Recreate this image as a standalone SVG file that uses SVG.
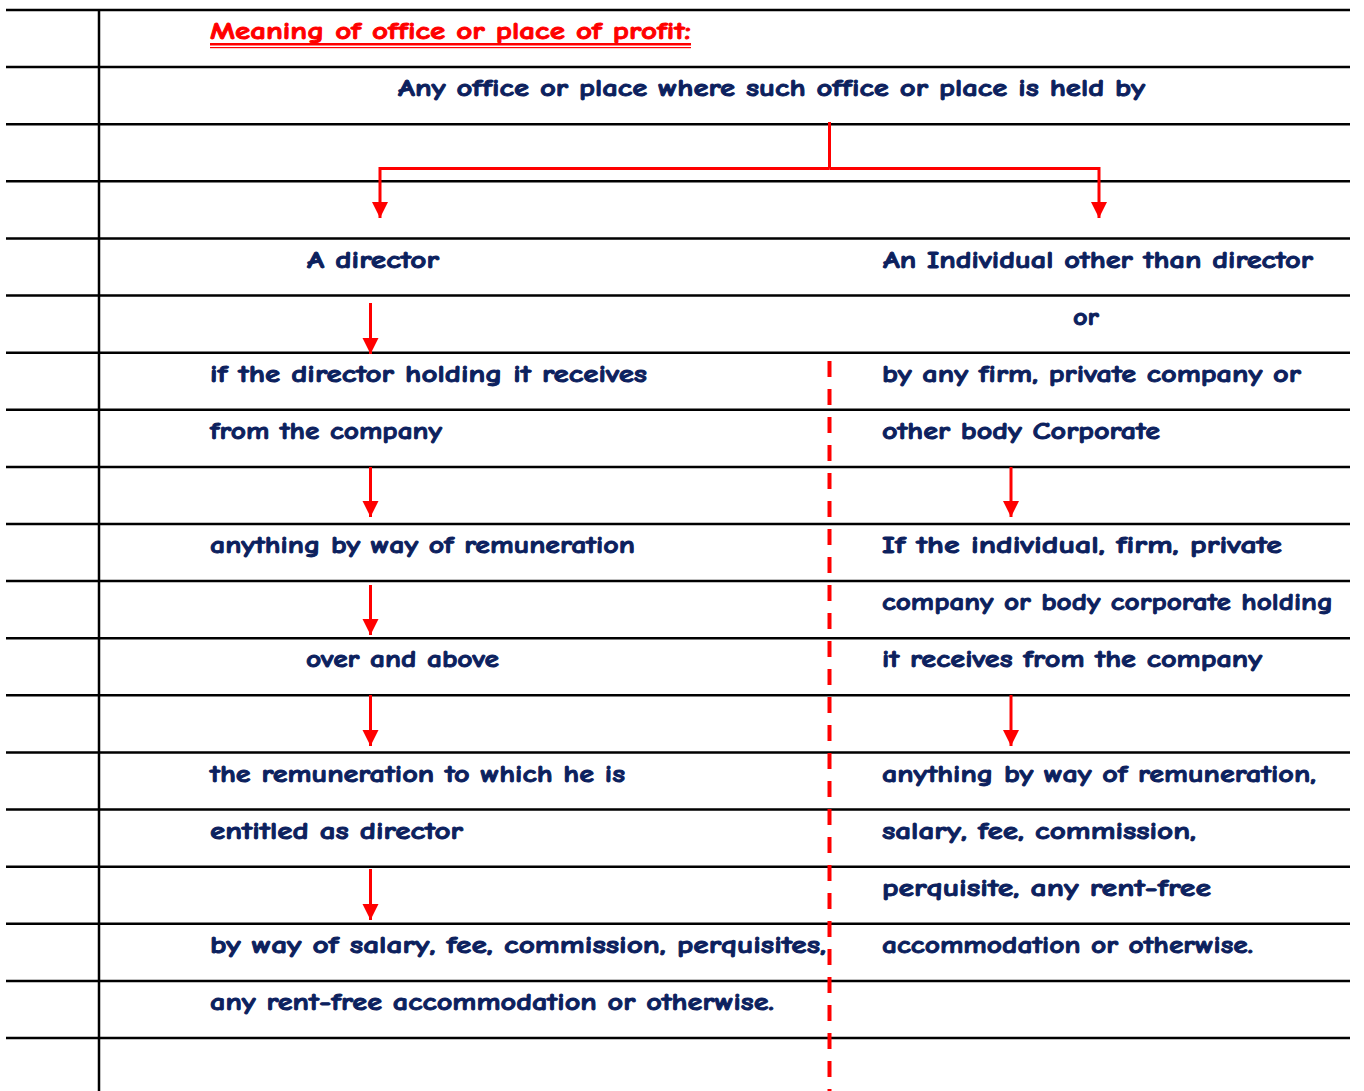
<svg xmlns="http://www.w3.org/2000/svg" width="1364" height="1091" viewBox="0 0 1364 1091">
<defs>
<style>
.rule{stroke:#000;stroke-width:2.5;fill:none}
.t{font-family:"Comic Sans MS","Comic Neue","DejaVu Sans",sans-serif;font-weight:bold;font-size:24.5px;fill:#0c215e;stroke:#0c215e;stroke-width:0.9px;stroke-linejoin:round}
.title{fill:#ff0000;stroke:#ff0000}
.red{stroke:#ff0000;stroke-width:3;fill:none}
.dash{stroke:#ff0000;stroke-width:4;fill:none;stroke-dasharray:16 12}
</style>
<marker id="ah" markerUnits="userSpaceOnUse" markerWidth="17" markerHeight="17" refX="16" refY="8" orient="auto">
<path d="M0,0 L16,8 L0,16 z" fill="#ff0000"/>
</marker>
</defs>
<rect width="1364" height="1091" fill="#fff"/>
<g id="ruling">
<path class="rule" d="M6,10H1350 M6,67.1H1350 M6,124.2H1350 M6,181.3H1350 M6,238.4H1350 M6,295.6H1350 M6,352.7H1350 M6,409.8H1350 M6,466.9H1350 M6,524H1350 M6,581.1H1350 M6,638.2H1350 M6,695.3H1350 M6,752.4H1350 M6,809.6H1350 M6,866.7H1350 M6,923.8H1350 M6,980.9H1350 M6,1038H1350"/>
<path class="rule" d="M99,10V1091"/>
</g>
<g id="title">
<text class="t title" x="210" y="39" textLength="481" lengthAdjust="spacingAndGlyphs">Meaning of office or place of profit:</text>
<rect x="210" y="43" width="481" height="2.5" fill="#ff0000"/>
<rect x="210" y="47" width="481" height="1.2" fill="#ff0000"/>
</g>
<g id="n-root"><text class="t" x="398" y="96" textLength="747" lengthAdjust="spacingAndGlyphs">Any office or place where such office or place is held by</text></g>
<g id="n-director"><text class="t" x="307" y="268" textLength="132" lengthAdjust="spacingAndGlyphs">A director</text></g>
<g id="n-individual">
<text class="t" x="883" y="268" textLength="430" lengthAdjust="spacingAndGlyphs">An Individual other than director</text>
<text class="t" x="1073" y="325" textLength="26" lengthAdjust="spacingAndGlyphs">or</text>
<text class="t" x="882" y="382" textLength="419" lengthAdjust="spacingAndGlyphs">by any firm, private company or</text>
<text class="t" x="882" y="439" textLength="278" lengthAdjust="spacingAndGlyphs">other body Corporate</text>
</g>
<g id="n-left1">
<text class="t" x="210" y="382" textLength="437" lengthAdjust="spacingAndGlyphs">if the director holding it receives</text>
<text class="t" x="210" y="439" textLength="232" lengthAdjust="spacingAndGlyphs">from the company</text>
</g>
<g id="n-left2"><text class="t" x="210" y="553" textLength="425" lengthAdjust="spacingAndGlyphs">anything by way of remuneration</text></g>
<g id="n-right2">
<text class="t" x="882" y="553" textLength="400" lengthAdjust="spacingAndGlyphs">If the individual, firm, private</text>
<text class="t" x="882" y="610" textLength="451" lengthAdjust="spacingAndGlyphs">company or body corporate holding</text>
<text class="t" x="882" y="667" textLength="380" lengthAdjust="spacingAndGlyphs">it receives from the company</text>
</g>
<g id="n-left3"><text class="t" x="306" y="667" textLength="193" lengthAdjust="spacingAndGlyphs">over and above</text></g>
<g id="n-left4">
<text class="t" x="210" y="782" textLength="415" lengthAdjust="spacingAndGlyphs">the remuneration to which he is</text>
<text class="t" x="210" y="839" textLength="253" lengthAdjust="spacingAndGlyphs">entitled as director</text>
</g>
<g id="n-right3">
<text class="t" x="882" y="782" textLength="434" lengthAdjust="spacingAndGlyphs">anything by way of remuneration,</text>
<text class="t" x="882" y="839" textLength="314" lengthAdjust="spacingAndGlyphs">salary, fee, commission,</text>
<text class="t" x="882" y="896" textLength="329" lengthAdjust="spacingAndGlyphs">perquisite, any rent-free</text>
<text class="t" x="882" y="953" textLength="371" lengthAdjust="spacingAndGlyphs">accommodation or otherwise.</text>
</g>
<g id="n-left5">
<text class="t" x="210" y="953" textLength="616" lengthAdjust="spacingAndGlyphs">by way of salary, fee, commission, perquisites,</text>
<text class="t" x="210" y="1010" textLength="564" lengthAdjust="spacingAndGlyphs">any rent-free accommodation or otherwise.</text>
</g>
<g id="connectors">
<path class="red" d="M829.5,122V168.5"/>
<path class="red" d="M829.5,168.5H380V218" marker-end="url(#ah)"/>
<path class="red" d="M829.5,168.5H1099V218" marker-end="url(#ah)"/>
<path class="red" d="M370.5,303V354" marker-end="url(#ah)"/>
<path class="red" d="M370.5,467V517" marker-end="url(#ah)"/>
<path class="red" d="M370.5,585V635" marker-end="url(#ah)"/>
<path class="red" d="M370.5,695V746" marker-end="url(#ah)"/>
<path class="red" d="M370.5,869V920" marker-end="url(#ah)"/>
<path class="red" d="M1011,467V517" marker-end="url(#ah)"/>
<path class="red" d="M1011,695V746" marker-end="url(#ah)"/>
<path class="dash" d="M829.5,361V1091"/>
</g>
</svg>
